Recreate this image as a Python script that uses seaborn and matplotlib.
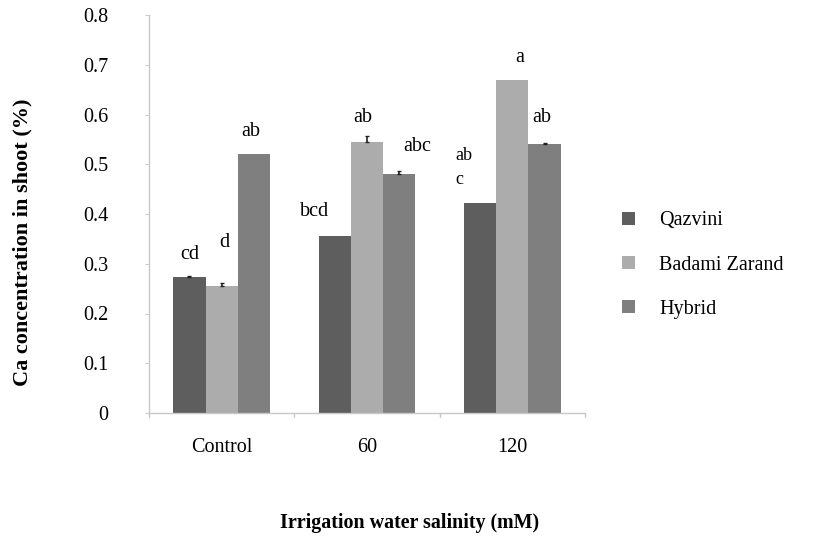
import matplotlib
matplotlib.use("Agg")
import matplotlib.pyplot as plt
import seaborn as sns
import pandas as pd
from matplotlib.patches import Patch

categories = ["Control", "60", "120"]
cultivars = ["Qazvini", "Badami Zarand", "Hybrid"]
qazvini = [0.273, 0.356, 0.422]
badami = [0.256, 0.545, 0.670]
hybrid = [0.520, 0.480, 0.540]
qazvini_err = [0.003, 0.0, 0.0]
badami_err = [0.006, 0.012, 0.0]
hybrid_err = [0.0, 0.006, 0.003]
letters_qazvini = ["cd", "bcd", "ab\nc"]
letters_badami = ["d", "ab", "a"]
letters_hybrid = ["ab", "abc", "ab"]
yticks = [0, 0.1, 0.2, 0.3, 0.4, 0.5, 0.6, 0.7, 0.8]
ytick_labels = ["0", "0.1", "0.2", "0.3", "0.4", "0.5", "0.6", "0.7", "0.8"]

df = pd.DataFrame({
    "salinity": categories * 3,
    "cultivar": [c for c in cultivars for _ in categories],
    "ca": qazvini + badami + hybrid,
})

colors = ["#5e5e5e", "#acacac", "#7f7f7f"]

sns.set_style("white")
plt.rcParams["font.family"] = ["Liberation Serif", "DejaVu Serif"]
plt.rcParams["text.color"] = "black"
plt.rcParams["xtick.color"] = "black"
plt.rcParams["ytick.color"] = "black"

fig = plt.figure(figsize=(8.22, 5.36), dpi=100)
ax = fig.add_axes([149/822, (536-413)/536, (585-149)/822, (413-15)/536])

sns.barplot(data=df, x="salinity", y="ca", hue="cultivar", order=categories,
            hue_order=cultivars, palette=colors, width=0.667, gap=0,
            saturation=1, ax=ax, legend=False, errorbar=None, linewidth=0)

# tiny error marks on top of bars (bars are drawn hue-by-hue)
errs = qazvini_err + badami_err + hybrid_err
vals = qazvini + badami + hybrid
bars = [p for p in ax.patches][:9]
for p, v, e in zip(bars, vals, errs):
    if e > 0:
        xc = p.get_x() + p.get_width() / 2
        ax.errorbar([xc], [v], yerr=[[0], [e]], fmt="none", ecolor="#222222",
                    elinewidth=1.2, capsize=1.5, capthick=1)

fs_tick = 14.5
ax.set_ylim(0, 0.8)
ax.set_xlim(-0.5, 2.5)
ax.set_yticks(yticks)
ax.set_yticklabels(ytick_labels, fontsize=fs_tick)
ax.set_xticks([0, 1, 2])
ax.set_xticklabels(categories, fontsize=fs_tick)
ax.tick_params(axis="x", length=0, pad=18)
ax.tick_params(axis="y", length=3, color="#cccccc", labelcolor="black", pad=26, left=True)
ax.set_xlabel("")
ax.set_ylabel("")
for s in ["top", "right"]:
    ax.spines[s].set_visible(False)
for s in ["left", "bottom"]:
    ax.spines[s].set_color("#c8c8c8")
    ax.spines[s].set_linewidth(1.0)
# category separator ticks on x axis
for xb in [-0.5, 0.5, 1.5, 2.5]:
    ax.plot([xb, xb], [0, -0.008], color="#c8c8c8", lw=1, clip_on=False)

# significance letters
fs = 14.5
ax.text(-0.222, 0.318, letters_qazvini[0], ha="center", va="center", fontsize=fs)
ax.text(0.02, 0.342, letters_badami[0], ha="center", va="center", fontsize=fs)
ax.text(0.20, 0.565, letters_hybrid[0], ha="center", va="center", fontsize=fs)
ax.text(0.64, 0.406, letters_qazvini[1], ha="center", va="center", fontsize=fs)
ax.text(0.972, 0.593, letters_badami[1], ha="center", va="center", fontsize=fs)
ax.text(1.344, 0.535, letters_hybrid[1], ha="center", va="center", fontsize=fs)
q3 = letters_qazvini[2].split("\n")
ax.text(1.606, 0.517, q3[0], ha="left", va="center", fontsize=13)
ax.text(1.606, 0.470, q3[1], ha="left", va="center", fontsize=13)
ax.text(2.053, 0.714, letters_badami[2], ha="center", va="center", fontsize=fs)
ax.text(2.204, 0.593, letters_hybrid[2], ha="center", va="center", fontsize=fs)

# legend
handles = [Patch(facecolor=c, edgecolor="none") for c in colors]
fig.legend(handles, cultivars, loc="center left",
           bbox_to_anchor=(604/822, 1 - 265/536), frameon=False,
           fontsize=14.5, handlelength=0.65, handleheight=0.65,
           handletextpad=1.2, labelspacing=1.25)

fig.text(22/822, 1 - 242/536, "Ca concentration in shoot (%)", rotation=90,
         ha="center", va="center", fontsize=16, fontweight="bold")
fig.text(410/822, 1 - 523/536, "Irrigation water salinity (mM)",
         ha="center", va="center", fontsize=14.4, fontweight="bold")

fig.savefig("out.png", dpi=100)
